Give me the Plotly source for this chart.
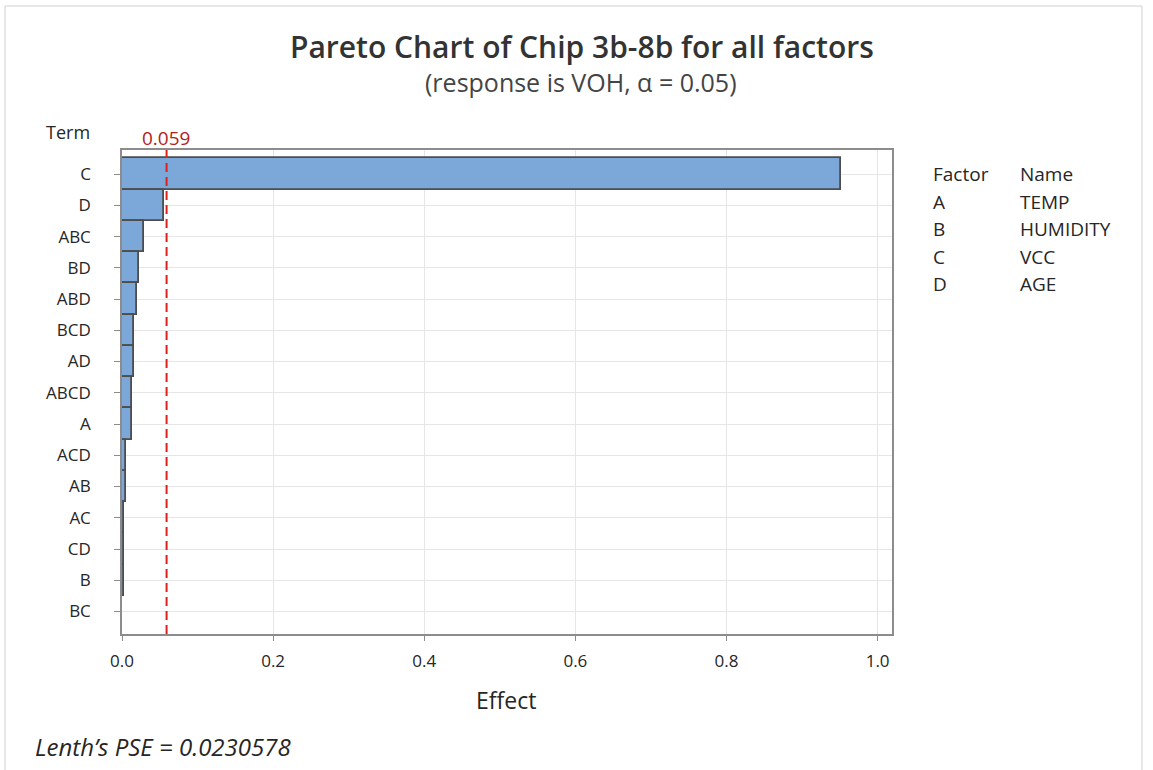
import plotly.graph_objects as go

# Pareto of absolute standardized effects (sorted largest first)
terms = ["C", "D", "ABC", "BD", "ABD", "BCD", "AD", "ABCD", "A",
         "ACD", "AB", "AC", "CD", "B", "BC"]
effects = [0.951, 0.0556, 0.0287, 0.0226, 0.0205, 0.0160, 0.0158, 0.0133,
           0.0131, 0.0056, 0.0055, 0.0026, 0.0023, 0.0021, 0.0005]
ref_effect = 0.059
x_ticks = [0.0, 0.2, 0.4, 0.6, 0.8, 1.0]

factor_codes = ["A", "B", "C", "D"]
factor_names = ["TEMP", "HUMIDITY", "VCC", "AGE"]
title_text = "Pareto Chart of Chip 3b-8b for all factors"
subtitle_text = "(response is VOH, α = 0.05)"
pse_text = "Lenth’s PSE = 0.0230578"

FONT = "Open Sans, Noto Sans, DejaVu Sans, sans-serif"
TXT = "#262626"

W, H = 1153, 770
L, R, T, B = 122, 261, 150, 136
pw, ph = W - L - R, H - T - B


def to_paper(px, py):
    return (px - L) / pw, (H - B - py) / ph


fig = go.Figure()
fig.add_trace(go.Bar(
    x=effects, y=terms, orientation="h", width=1.0,
    marker=dict(color="#7BA7D9", line=dict(color="#4D4D4D", width=1.8)),
    hoverinfo="x+y", showlegend=False,
))

# critical effect reference line
fig.add_shape(type="line", xref="x", yref="paper", x0=ref_effect, x1=ref_effect,
              y0=0, y1=1, line=dict(color="#E0201B", width=2, dash="9px,5px"))
fig.add_annotation(x=ref_effect, xref="x", y=1.0, yref="paper", yanchor="bottom",
                   text=f"{ref_effect:.3f}", showarrow=False, yshift=-3, xshift=-1,
                   font=dict(family=FONT, size=19, color="#B22222"))


def label(px, py, text, size, anchor="left", color=TXT, weight=None):
    xp, yp = to_paper(px, py)
    f = dict(family=FONT, size=size, color=color)
    if weight:
        f["weight"] = weight
    fig.add_annotation(x=xp, y=yp, xref="paper", yref="paper", text=text,
                       showarrow=False, xanchor=anchor, yanchor="middle", font=f)


label(582, 46, title_text, 30, anchor="center", color="#333333", weight=600)
label(581, 82, subtitle_text, 25, anchor="center", color="#444444")

# axis header for the term labels
label(44, 132, "Term", 18)

# factor/name table
label(931, 174, "Factor", 19)
label(1018, 174, "Name", 19)
for i, (c, n) in enumerate(zip(factor_codes, factor_names)):
    yy = 202 + i * 27.4
    label(931, yy, c, 19)
    label(1018, yy, n, 19)

label(33, 746, pse_text, 24, color=TXT)
fig.layout.annotations[-1].text = f"<i>{pse_text}</i>"
label(506, 700, "Effect", 23, anchor="center")

# outer frame
x0, y0 = to_paper(5, 6)
x1, y1 = to_paper(1142, 790)
fig.add_shape(type="rect", xref="paper", yref="paper", x0=x0, y0=y1, x1=x1, y1=y0,
              line=dict(color="#D0D0D0", width=1), layer="below")

fig.update_layout(
    width=W, height=H,
    margin=dict(l=L, r=R, t=T, b=B),
    paper_bgcolor="white", plot_bgcolor="white",
    bargap=0,
    font=dict(family=FONT, color=TXT),
)
fig.update_xaxes(
    range=[0, 1.019], tickvals=x_ticks, ticktext=[f"{v:.1f}" for v in x_ticks],
    showgrid=True, gridcolor="#E6E6E6", gridwidth=1,
    showline=True, linecolor="#8C8C8C", linewidth=1.5, mirror=True,
    ticks="outside", ticklen=5, tickcolor="#8C8C8C",
    tickfont=dict(size=17, color=TXT), zeroline=False, ticklabelstandoff=6,
)
fig.update_yaxes(
    type="category", categoryorder="array", categoryarray=terms,
    range=[14.72, -0.77],
    showgrid=True, gridcolor="#E6E6E6", gridwidth=1,
    showline=True, linecolor="#8C8C8C", linewidth=1.5, mirror=True,
    ticks="outside", ticklen=6, tickcolor="#8C8C8C",
    tickfont=dict(size=17, color=TXT), ticklabelstandoff=20,
)

fig.write_html("out.html")
